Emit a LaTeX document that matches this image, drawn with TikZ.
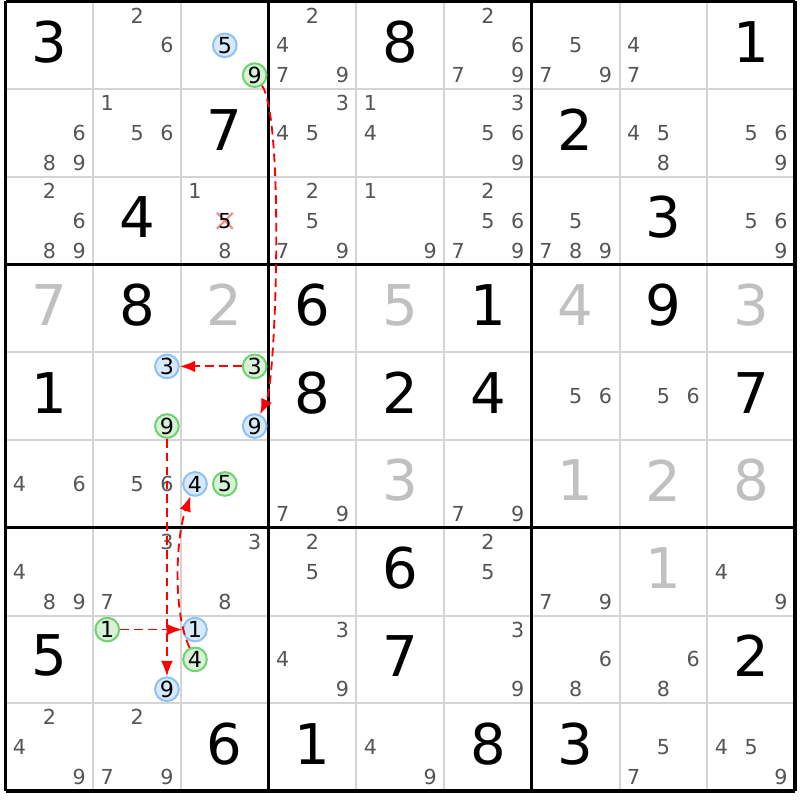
\documentclass[tikz,border=0pt]{standalone}
\usepackage{fontspec}
\setmainfont{DejaVu Sans}
\usetikzlibrary{arrows.meta}

\definecolor{candgray}{RGB}{85,85,85}
\definecolor{solvedgray}{RGB}{192,192,192}
\definecolor{gridgray}{RGB}{212,212,212}
\definecolor{bluering}{RGB}{140,195,245}
\definecolor{bluefill}{RGB}{215,233,250}
\definecolor{greenring}{RGB}{110,210,110}
\definecolor{greenfill}{RGB}{215,242,215}
\definecolor{crossred}{RGB}{240,140,140}

% position of candidate #3 in row #1, column #2
\newcommand{\candxy}[3]{%
  \pgfmathsetmacro{\cx}{#2-0.84+0.34*mod(#3-1,3)}%
  \pgfmathsetmacro{\cy}{-#1+0.84-0.34*div(#3-1,3)}}

\tikzset{
  given/.style={inner sep=0pt, font=\fontsize{18.2}{18}\selectfont},
  solved/.style={given, text=solvedgray},
  cand/.style={inner sep=0pt, text=candgray, font=\fontsize{6.7}{7}\selectfont},
  ringed/.style={cand, circle, text=black, minimum size=0.27cm, line width=0.65pt,
    font=\fontsize{7.2}{7}\selectfont},
  bluecand/.style={ringed, draw=bluering, fill=bluefill},
  greencand/.style={ringed, draw=greenring, fill=greenfill},
  struck/.style={cand, text=black},
  link/.style={->, red, line width=0.6pt, dash pattern=on 2.8pt off 1.7pt}
}

\begin{document}
\begin{tikzpicture}[>={Latex[length=5pt,width=3.8pt]}]
  \useasboundingbox (-0.063, 0.017) rectangle (9.057, -9.103);
  \fill[white] (-0.063, 0.017) rectangle (9.057, -9.103);

  % grid
  \foreach \i in {1,2,4,5,7,8} {
    \draw[gridgray, line width=0.65pt] (\i, 0) -- (\i, -9);
    \draw[gridgray, line width=0.65pt] (0, -\i) -- (9, -\i);
  }
  \foreach \i in {0,3,6,9} {
    \draw[line width=1pt] (\i, 0) -- (\i, -9);
    \draw[line width=1pt] (0, -\i) -- (9, -\i);
  }

  % big digits
  \foreach \r/\c/\d in {1/1/3, 1/5/8, 1/9/1, 2/3/7, 2/7/2, 3/2/4, 3/8/3,
      4/2/8, 4/4/6, 4/6/1, 4/8/9, 5/1/1, 5/4/8, 5/5/2, 5/6/4, 5/9/7,
      7/5/6, 8/1/5, 8/5/7, 8/9/2, 9/3/6, 9/4/1, 9/6/8, 9/7/3}
    \node[given] (g\r\c) at (\c-0.5, 0.54-\r) {\d};
  \foreach \r/\c/\d in {4/1/7, 4/3/2, 4/5/5, 4/7/4, 4/9/3,
      6/5/3, 6/7/1, 6/8/2, 6/9/8, 7/8/1}
    \node[solved] (g\r\c) at (\c-0.5, 0.54-\r) {\d};

  % pencil marks
  \foreach \r/\c/\ds in {1/2/{2,6}, 1/4/{2,4,7,9}, 1/6/{2,6,7,9}, 1/7/{5,7,9}, 1/8/{4,7},
      2/1/{6,8,9}, 2/2/{1,5,6}, 2/4/{3,4,5}, 2/5/{1,4}, 2/6/{3,5,6,9}, 2/8/{4,5,8}, 2/9/{5,6,9},
      3/1/{2,6,8,9}, 3/3/{1,8}, 3/4/{2,5,7,9}, 3/5/{1,9}, 3/6/{2,5,6,7,9}, 3/7/{5,7,8,9}, 3/9/{5,6,9},
      5/7/{5,6}, 5/8/{5,6},
      6/1/{4,6}, 6/2/{5,6}, 6/4/{7,9}, 6/6/{7,9},
      7/1/{4,8,9}, 7/2/{3,7}, 7/3/{3,8}, 7/4/{2,5}, 7/6/{2,5}, 7/7/{7,9}, 7/9/{4,9},
      8/4/{3,4,9}, 8/6/{3,9}, 8/7/{6,8}, 8/8/{6,8},
      9/1/{2,4,9}, 9/2/{2,7,9}, 9/5/{4,9}, 9/8/{5,7}, 9/9/{4,5,9}}
    \foreach \d in \ds {
      \candxy{\r}{\c}{\d}
      \node[cand] (n\r\c\d) at (\cx, \cy) {\d};
    }

  % eliminated candidate
  \candxy{3}{3}{5}
  \draw[crossred, line width=0.7pt] (\cx-0.09, \cy-0.09) -- (\cx+0.09, \cy+0.09)
    (\cx-0.09, \cy+0.09) -- (\cx+0.09, \cy-0.09);
  \node[struck] (n335) at (\cx, \cy) {5};

  % chain candidates
  \foreach \r/\c/\d/\s in {1/3/5/bluecand, 1/3/9/greencand, 5/2/3/bluecand, 5/2/9/greencand,
      5/3/3/greencand, 5/3/9/bluecand, 6/3/4/bluecand, 6/3/5/greencand,
      8/2/1/greencand, 8/2/9/bluecand, 8/3/1/bluecand, 8/3/4/greencand} {
    \candxy{\r}{\c}{\d}
    \node[\s] (n\r\c\d) at (\cx, \cy) {\d};
  }

  % links
  \draw[link] (n139) to[out=-55, in=65, looseness=0.3] (n539);
  \draw[link] (n533) -- (n523);
  \draw[link] (n529) -- (n829);
  \draw[link] (n821) -- (n831);
  \draw[link] (n834) to[out=115, in=-110, looseness=0.7] (n634);
\end{tikzpicture}
\end{document}
